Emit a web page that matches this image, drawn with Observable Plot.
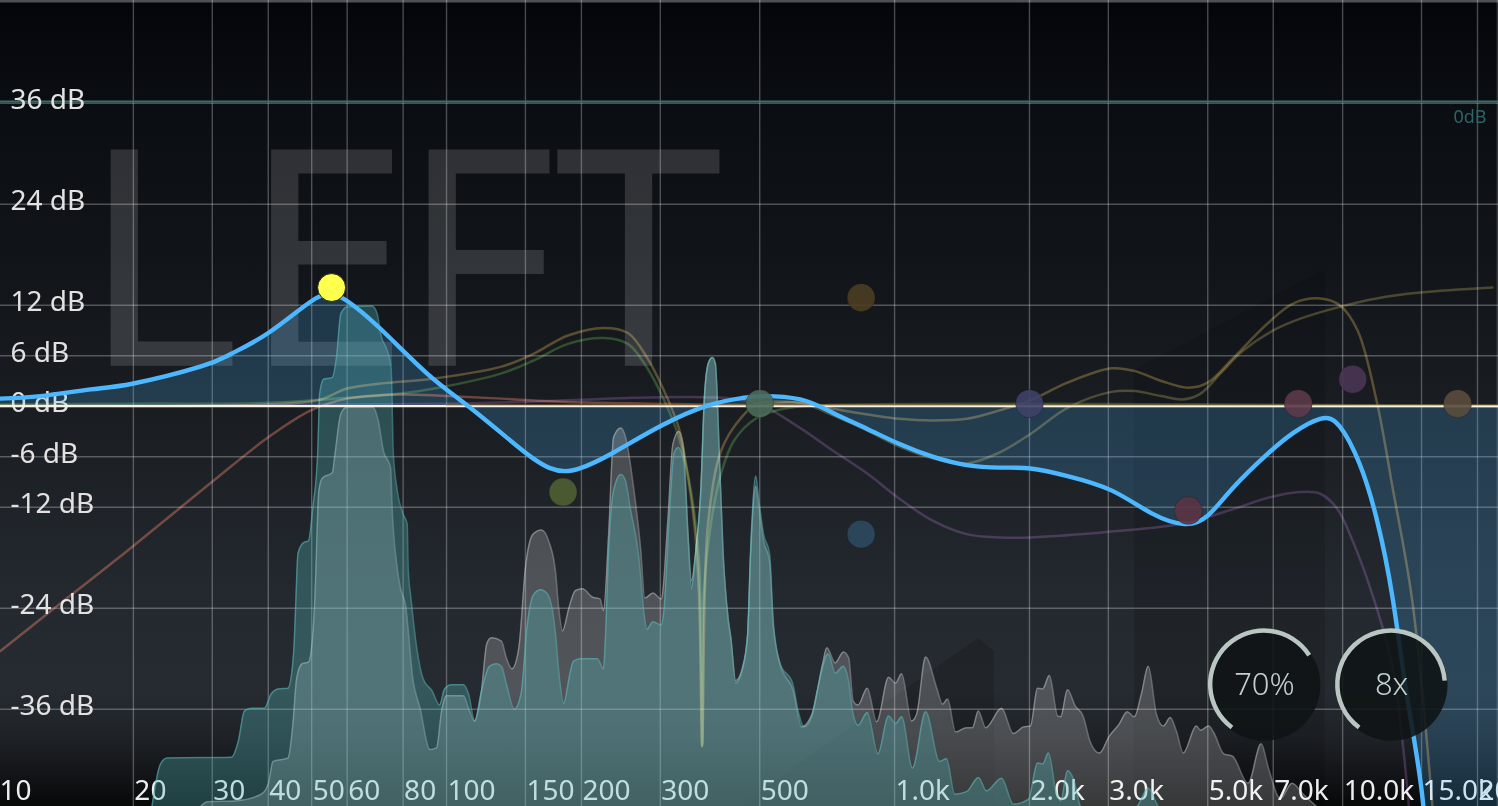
<!DOCTYPE html>
<html>
<head>
<meta charset="utf-8">
<script src="https://cdn.jsdelivr.net/npm/d3@7"></script>
<script src="https://cdn.jsdelivr.net/npm/@observablehq/plot@0.6"></script>
<style>html,body{margin:0;padding:0;background:#000;overflow:hidden}svg{display:block}</style>
</head>
<body>
<div id="chart"></div>
<script>
// axis ticks
const freqGrid = [20,30,40,50,60,80,100,150,200,300,500,1000,2000,3000,5000,7000,10000,15000,20000];
const freqLabelHz = [10,20,30,40,50,60,80,100,150,200,300,500,1000,2000,3000,5000,7000,10000,15000,20000];
const freqLabelText = ["10","20","30","40","50","60","80","100","150","200","300","500","1.0k","2.0k","3.0k","5.0k","7.0k","10.0k","15.0k","20k"];
const dbTicks = [36,24,12,6,0,-6,-12,-24,-36];

// channel watermark
const channelLetters = ["L","E","F","T"];
const channelHz = [15.3,34.9,78.4,174];

// summed EQ response
const eqHz = [10.1,12.4,16.05,20,28.2,33,40,50,55.4,60,71.2,90,110,132.6,156,186.6,236,302,384,460,510,616,729,869,1026,1216,1448,1715,2010,2432,3047,3740,4430,5000,5716,6790,7750,8910,9850,10900,11900,12930,13970,15150,16500,23000];
const eqDb = [0.9,1.2,2.0,2.7,4.7,6.2,8.7,12.5,13.3,12.5,9.2,4.0,0.3,-3.2,-6.2,-7.7,-5.5,-2.3,0.1,1.0,1.2,0.8,-0.8,-2.7,-4.5,-6,-7.0,-7.3,-7.4,-8.3,-10,-12.7,-14,-13,-9.6,-5.7,-3.2,-1.5,-2.4,-6.8,-13.3,-22.8,-35,-47.6,-62,-80];

// individual band curves
const redHz = [10.1,13.1,14,20,29.8,40,49.8,60,78.9,100,132.6,186.6,286,503,23000];
const redDb = [-29.1,-24.3,-23.1,-16.6,-9.1,-3.7,-0.5,0.9,1.4,1.2,0.9,0.5,0.3,0.1,0];
const orangeHz = [10.1,40,51.6,60,71.2,94,132.6,156,186.6,224,254,280,306,330,346,358,366,372,377,384,410,454,497,616,729,1026,1216,1448,1715,2010,2432,3047,3425,3940,4520,5000,5716,6790,7750,8910,9850,10800,11900,12930,14300,15870];
const orangeDb = [0.1,0.2,0.7,2.1,2.7,3.3,4.7,6.2,8.4,9.3,8.7,5.8,1.8,-2.6,-8.5,-14.4,-22.3,-40.4,-22.3,-13.6,-5.3,-1.4,0.3,0.4,-0.3,-1.5,-1.7,-1.5,-0.5,0.7,2.8,4.5,4.2,3,2.2,2.8,5.8,9.8,12.2,12.8,12,9,0.7,-9.7,-23.1,-47.6];
const greenHz = [10.1,20,40,60,78.9,94,132.6,156,186.6,224,254,280,306,330,352,366,372,375,390,410,438,492,565,672,23000];
const greenDb = [0.2,0.3,0.4,1,1.5,2.1,3.9,5.4,7.4,8.1,7.4,4.6,0.7,-3.7,-10.4,-18.4,-40.4,-22.3,-13.6,-8,-4.1,-1.4,-0.3,0.1,0];
const purpleHz = [10.1,100,186.6,262,339,438,497,616,729,869,1026,1216,1448,1715,2010,3047,4430,5716,6790,8050,8910,9700,10530,11770,12930,14060];
const purpleDb = [0,0.3,0.7,1,1.1,0.9,0.3,-2.6,-5.3,-8,-11,-13.6,-15.2,-15.6,-15.6,-14.9,-13.9,-12.2,-10.9,-10.2,-10.4,-12.1,-16,-23.1,-31.1,-47.6];
const oliveHz = [500,616,729,869,1026,1216,1448,1715,2010,2432,3047,3429,3940,4385,4820,5340,6000,7000,8050,9850,11900,14900,21600];
const oliveDb = [0,0.4,-1.1,-2.9,-4.8,-6.2,-6.8,-5.5,-3.3,-0.2,1.7,1.8,1.2,0.8,1.5,3.9,6.6,9,10.4,11.8,12.8,13.5,14.1];
const tanHz = [100,23000];
const tanDb = [0.15,0.15];

// analyzer spectra
const tealHz = [22,23,23.8,33.1,34.3,35.4,36.7,39.2,40.6,42.1,44.3,45.6,46.1,46.6,48,49.2,50.3,51.6,52.1,53.2,55.6,56.8,58.1,60,68.2,70,71.4,73.7,75.2,75.6,76,77.6,80,81.7,82.1,83.4,86,88.7,92.8,96.5,99,102.6,109,112,115.5,119.7,124.7,129.3,132.6,136,141.6,146.6,151.5,156,162,168,175,178,182.5,189,192,199,217,224,226,230,236,245,251,257,268,276,280,289,301.5,306,314,322,329,338,346,352,360,370,376,384,392,398,406,414,425,431,442,458,470,477,490,497,510,526,536,555,592,609,628,654,672,711,737,769,789,808,829,869,918,969,1005,1037,1096,1173,1260,1306,1362,1448,1539,1603,1733,1842,1990,2085,2140,2206,2290,2348,2432,2508,2600,2730,3465,3684,3880,4125,23000];
const tealDb = [-47.6,-42.5,-41.8,-41.7,-39.8,-36.2,-35.9,-35.9,-34.2,-33.6,-33.5,-29.1,-23.1,-17.5,-16.2,-16,-12.1,-5.3,1.5,3.2,3.4,5.8,11,11.8,11.9,11,8.4,6.6,4.6,0.7,-5.3,-10,-12.8,-14,-19.2,-23.1,-29.1,-32.4,-33.8,-35.5,-33.6,-33.1,-33.1,-34.2,-37.4,-33.8,-30.9,-30.6,-30.9,-33,-36,-34.2,-25.9,-22.5,-21.8,-22.3,-27,-31.5,-35.3,-31.5,-30.3,-30,-30,-31.2,-28.2,-17.2,-10,-8.1,-8.9,-12.1,-17.5,-24.7,-26.5,-25.6,-26,-24,-13.3,-5.6,-4.9,-6.5,-15.6,-21.7,-17.2,-9.2,0.7,5.1,5.8,5.1,-5.3,-17.2,-25.2,-27.5,-32.9,-31.2,-27,-17.2,-8.3,-10.9,-15.2,-17.5,-25.5,-30.6,-32.9,-36.2,-38.1,-36.8,-33.8,-29.4,-31.7,-30.9,-32.6,-36.6,-37.9,-36.4,-41.3,-36.8,-37.7,-36.9,-43,-36.3,-42.2,-41.9,-46.1,-45.8,-44.1,-45.7,-44.2,-47.3,-46.7,-42.4,-42.5,-41.2,-45.7,-46.9,-43.3,-44.3,-47.6,-48.7,-47.6,-45.4,-47.6,-48.7,-49];
const grayHz = [28.2,29.3,33.7,38.6,40,41,44.3,45.4,46.3,47.6,49.2,50.3,50.8,51.9,52.9,55.6,56.4,58.1,60,68.4,70.4,72.3,75,75.6,77.6,78.9,80.9,84.2,87.3,91.8,95,97.5,100,109,112.5,115.5,119.7,123,126,132.6,136,140,145,150,156,163,169,175,178,181.5,187.5,194,201,212,220,224,230,236,245,251,262,271,277,289,301.5,312,320,330,338,346,352,360,370,376,384,392,398,406,414,425,431,442,458,470,477,490,497,510,526,536,555,594,620,654,691,706,737,769,790,808,829,869,912,970,1005,1037,1091,1120,1173,1242,1280,1313,1368,1448,1492,1538,1597,1733,1842,1940,2010,2085,2140,2216,2312,2348,2432,2530,2635,2730,2865,3015,3170,3306,3429,3555,3684,3840,3980,4125,4256,4410,4716,4820,5025,5160,5430,5685,6150,6580,6830,7260,7715,8170,8770,9330,23000];
const grayDb = [-47.6,-47,-46.9,-46.1,-44.9,-42.2,-41.8,-37.8,-32.3,-30.6,-30.4,-27.1,-23.1,-10,-8.5,-7.9,-5.6,-0.9,-0.1,-0.1,-1.7,-5.3,-7.3,-12.1,-19.2,-21.6,-23.5,-32.6,-35.9,-40.8,-40.6,-36.2,-34.4,-34.4,-36.2,-37.4,-33.8,-28.2,-27.5,-27.9,-29.9,-31.2,-28.7,-19.2,-15.2,-14.7,-16,-19.6,-24,-26.7,-24,-21.9,-21.7,-22.7,-22.9,-24.3,-15.2,-3.7,-2.6,-3.7,-10,-16.8,-22.8,-22.2,-22.9,-13.3,-4.5,-3,-4.9,-15.2,-20.7,-17.2,-9.2,0.7,5.1,5.8,5.1,-5.3,-17.2,-25.2,-27.5,-32.6,-31,-27,-17.8,-9.5,-11.8,-16,-18.4,-26.1,-30.6,-33.8,-38.1,-36.6,-30.6,-28.7,-30.5,-29.2,-29.9,-35,-35.5,-33.5,-37.5,-32.2,-32.9,-31.8,-37.4,-36.6,-29.8,-33.5,-35.4,-34.8,-38.7,-38.2,-38.2,-36.2,-38.2,-35.9,-38.9,-38.1,-38,-33.5,-33.6,-32,-36.8,-36.9,-33.7,-35.6,-36.8,-39.8,-41.2,-39.2,-37.8,-36.3,-36.9,-34.2,-30.9,-36.6,-38,-37,-38.6,-41.2,-38,-38.5,-38,-38.8,-41.3,-41.6,-44.8,-40.1,-43,-46.6,-44.8,-46.1,-47.6,-48.7,-49];

// band nodes
const nodeHz = [182,500,842,842,2000,4525,7960,10530,18050];
const nodeDb = [-10.2,0.3,12.9,-15.2,0.3,-12.4,0.3,3.2,0.3];
const nodeFill = ["#4f5f33","#4a6a5a","#4d3d22","#2c4a60","#3e4166","#5b3343","#5c3a4a","#4a3553","#5a4d3e"];
const activeHz = [55.4];
const activeDb = [14.1];

// faint background wedges
const wedgeAHz = [454,594,1539,1672];
const wedgeADb = [-47.6,-43,-27.6,-29.1];
const wedgeBHz = [3429,9050,9150];
const wedgeBDb = [4.2,16.1,15.5];

// dials
const dialHz = [6690,12860];
const dialDb = [-33.1,-33.1];
const dialText = ["70%","8x"];
const dialAmount = [0.7,0.8];

const pts = (hz, db) => d3.zip(hz, db).map(([f, d]) => ({f, d}));
const FONT = "'Noto Sans', sans-serif";
const BOTTOM = -55;
const line = (hz, db, stroke, o = {}) => Plot.line(pts(hz, db), {x:"f", y:"d", stroke, strokeWidth:2.5, curve:"catmull-rom", mixBlendMode:"screen", ...o});
const spectrum = (hz, db, fill, fillOpacity, stroke, strokeOpacity) => [
  Plot.areaY(pts(hz, db), {x:"f", y1:BOTTOM, y2:"d", fill, fillOpacity, curve:"monotone-x", clip:true}),
  Plot.line(pts(hz, db), {x:"f", y:"d", stroke, strokeOpacity, strokeWidth:1.5, curve:"monotone-x", clip:true})
];

const chart = Plot.plot({
  width:1498, height:806, margin:0,
  style:{background:"linear-gradient(180deg,#03050a 0,#0a0d11 100px,#11151a 260px,#1a1e23 420px,#24292f 600px,#262b31 690px,#1f2328 735px,#121417 775px,#070808 806px)", fontFamily:FONT, overflow:"hidden"},
  x:{type:"log", domain:[10,20000], range:[-2,1477], axis:null},
  y:{domain:[36,-36], range:[102.7,708.7], axis:null},
  marks:[
    Plot.text(channelLetters, {x:(d,i)=>channelHz[i], y:()=>4.8, text:d=>d, fontSize:303, textAnchor:"start", lineAnchor:"bottom", fill:"#ffffff", fillOpacity:0.14}),
    Plot.areaY(pts(wedgeAHz, wedgeADb), {x:"f", y1:BOTTOM, y2:"d", fill:"#000", fillOpacity:0.13, clip:true}),
    Plot.areaY(pts(wedgeBHz, wedgeBDb), {x:"f", y1:BOTTOM, y2:"d", fill:"#000", fillOpacity:0.13, clip:true}),
    Plot.ruleX(freqGrid, {stroke:"#fff", strokeOpacity:0.27, strokeWidth:1.4}),
    Plot.ruleY(dbTicks, {stroke:"#fff", strokeOpacity:0.27, strokeWidth:1.4}),
    Plot.ruleY([48.1], {stroke:"#fff", strokeOpacity:0.3, strokeWidth:2.5}),
    Plot.ruleX([22130], {stroke:"#fff", strokeOpacity:0.25, strokeWidth:1}),
    Plot.ruleY([36.2], {stroke:"#3c6e6e", strokeWidth:2}),
    Plot.text(["0dB"], {x:[20950], y:[34.3], text:d=>d, fontSize:18, textAnchor:"end", fill:"#2f6466"}),
    Plot.text(dbTicks, {frameAnchor:"left", dx:10, dy:-3, y:d=>d, text:d=>`${d} dB`, fontSize:28, textAnchor:"start", fill:"#e2e2e2"}),
    Plot.text(freqLabelHz, {x:d=>d, y:()=>-46.8, dx:1, text:(d,i)=>freqLabelText[i], fontSize:28, textAnchor:"start", lineAnchor:"bottom", fill:"#eeeeee"}),
    Plot.areaY(pts(eqHz, eqDb), {x:"f", y1:0, y2:"d", fill:"#4db8ff", fillOpacity:0.2, curve:"natural", clip:true}),
    ...spectrum(grayHz, grayDb, "#ffffff", 0.2, "#ffffff", 0.3),
    ...spectrum(tealHz, tealDb, "#53b9bc", 0.32, "#5fbcbc", 0.5),
    line(redHz, redDb, "#5e2e1e"),
    line(greenHz, greenDb, "#1f3a12"),
    line(orangeHz, orangeDb, "#4a3a15"),
    line(purpleHz, purpleDb, "#2f1c38"),
    line(oliveHz, oliveDb, "#3c3518"),
    Plot.ruleY([0], {stroke:"#f7f1e6", strokeWidth:2.2}),
    line(tanHz, tanDb, "#8a6f3a", {strokeWidth:1.2, strokeOpacity:0.72, curve:"linear", mixBlendMode:"normal"}),
    line(eqHz, eqDb, "#4db8ff", {strokeWidth:4.4, curve:"natural", mixBlendMode:"normal"}),
    Plot.dot(pts(nodeHz, nodeDb), {x:"f", y:"d", r:14, fill:(d,i)=>nodeFill[i], fillOpacity:0.9, stroke:"#000", strokeOpacity:0.2, strokeWidth:1}),
    Plot.dot(pts(activeHz, activeDb), {x:"f", y:"d", r:14, fill:"#ffff4d", stroke:"#222", strokeWidth:1}),
    Plot.dot(dialHz, {x:d=>d, y:(d,i)=>dialDb[i], r:56, fill:"#0f1315", fillOpacity:0.88}),
    (index, {x, y}) => {
      const g = d3.create("svg:g").attr("fill", "#b9c6c1");
      const start = -143.5 * Math.PI / 180, sweep = 287 * Math.PI / 180;
      const arc = d3.arc().innerRadius(51.5).outerRadius(56);
      dialHz.forEach((f, i) => {
        g.append("path")
          .attr("transform", `translate(${x(f)},${y(dialDb[i])})`)
          .attr("d", arc({startAngle:start, endAngle:start + sweep * dialAmount[i]}));
      });
      return g.node();
    },
    Plot.text(dialHz, {x:d=>d, y:(d,i)=>dialDb[i], text:(d,i)=>dialText[i], fontSize:31, fontWeight:300, fill:"#c4d0cb"})
  ]
});
document.getElementById("chart").append(chart);
</script>
</body>
</html>
